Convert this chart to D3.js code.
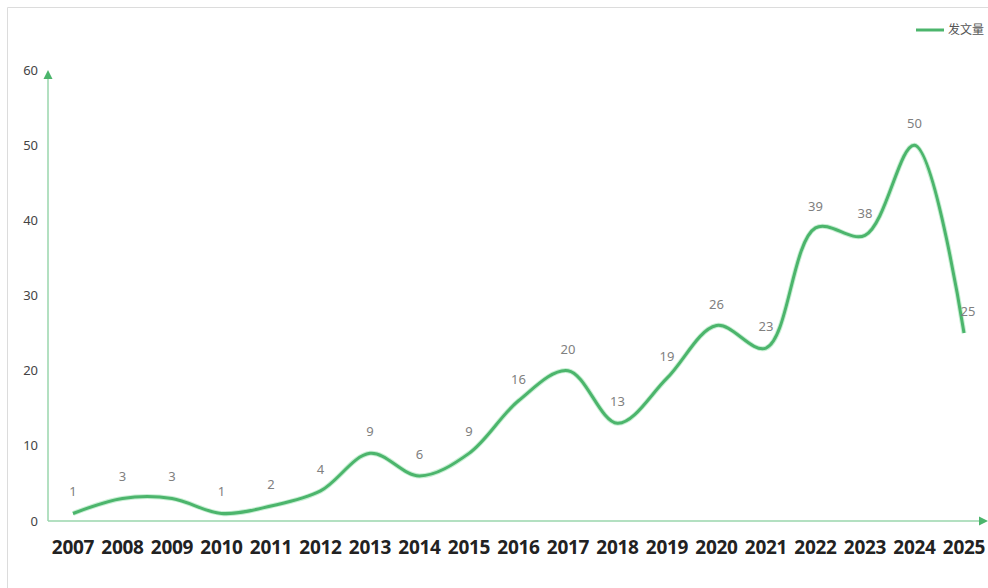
<!DOCTYPE html>
<html>
<head>
<meta charset="utf-8">
<script src="https://cdn.jsdelivr.net/npm/d3@7"></script>
<style>
  body { margin: 0; background: #fff; }
  svg { display: block; }
</style>
</head>
<body>
<svg id="chart" width="988" height="588"></svg>
<script>
const years = ["2007", "2008", "2009", "2010", "2011", "2012", "2013", "2014", "2015", "2016",
  "2017", "2018", "2019", "2020", "2021", "2022", "2023", "2024", "2025"];
const counts = [1, 3, 3, 1, 2, 4, 9, 6, 9, 16, 20, 13, 19, 26, 23, 39, 38, 50, 25];
const yTicks = [0, 10, 20, 30, 40, 50, 60];
const seriesName = "发文量";

const svg = d3.select("#chart");
const lineColor = "#4cb56c";
const axisColor = "#9ad6ad";

// outer frame
svg.append("path")
  .attr("d", "M7.5,588 V7.5 H988")
  .attr("fill", "none")
  .attr("stroke", "#dcdcdc")
  .attr("stroke-width", 1);

const x = d3.scalePoint().domain(years).range([73, 964]);
const y = d3.scaleLinear().domain([0, 60]).range([521, 70]);

// axes with arrow heads
svg.append("line")
  .attr("x1", 48).attr("x2", 980)
  .attr("y1", y(0)).attr("y2", y(0))
  .attr("stroke", axisColor).attr("stroke-width", 1.5);
svg.append("path")
  .attr("d", `M988,${y(0)} l-9,-4.5 v9 z`)
  .attr("fill", lineColor);

svg.append("line")
  .attr("x1", 48).attr("x2", 48)
  .attr("y1", y(0)).attr("y2", y(60) + 6)
  .attr("stroke", axisColor).attr("stroke-width", 1.5);
svg.append("path")
  .attr("d", `M48,${y(60)} l-4.5,9 h9 z`)
  .attr("fill", lineColor);

// y tick labels
svg.append("g").selectAll("text")
  .data(yTicks)
  .enter().append("text")
  .attr("x", 38)
  .attr("y", d => y(d))
  .attr("dy", "0.35em")
  .attr("text-anchor", "end")
  .style("font-family", "'Noto Sans', 'Open Sans', sans-serif")
  .style("font-size", "13px")
  .style("fill", "#444")
  .text(d => d);

// x tick labels
svg.append("g").selectAll("text")
  .data(years)
  .enter().append("text")
  .attr("x", d => x(d))
  .attr("y", 554)
  .attr("text-anchor", "middle")
  .style("font-family", "'Noto Sans', 'Open Sans', sans-serif")
  .style("font-size", "19px")
  .style("font-weight", "bold")
  .style("letter-spacing", "-0.3px")
  .style("fill", "#222")
  .text(d => d);

const data = years.map((yr, i) => ({ year: yr, value: counts[i] }));

const line = d3.line()
  .x(d => x(d.year))
  .y(d => y(d.value))
  .curve(d3.curveCatmullRom.alpha(0.5));

// soft halo under the line
svg.append("path")
  .datum(data)
  .attr("d", line)
  .attr("fill", "none")
  .attr("stroke", "#8fe0a8")
  .attr("stroke-width", 5)
  .attr("opacity", 0.5);

svg.append("path")
  .datum(data)
  .attr("d", line)
  .attr("fill", "none")
  .attr("stroke", lineColor)
  .attr("stroke-width", 3);

// value labels
svg.append("g").selectAll("text")
  .data(data)
  .enter().append("text")
  .attr("x", d => x(d.year) + (d.year === "2025" ? 4 : 0))
  .attr("y", d => y(d.value) - 17)
  .attr("text-anchor", "middle")
  .style("font-family", "'Noto Sans', 'Open Sans', sans-serif")
  .style("font-size", "13px")
  .style("fill", "#808080")
  .text(d => d.value);

// legend
svg.append("line")
  .attr("x1", 916).attr("x2", 944)
  .attr("y1", 30).attr("y2", 30)
  .attr("stroke", lineColor).attr("stroke-width", 3);
svg.append("text")
  .attr("x", 948)
  .attr("y", 30)
  .attr("dy", "0.35em")
  .style("font-family", "'Noto Sans CJK SC', sans-serif")
  .style("font-size", "12px")
  .style("fill", "#555")
  .text(seriesName);
</script>
</body>
</html>
